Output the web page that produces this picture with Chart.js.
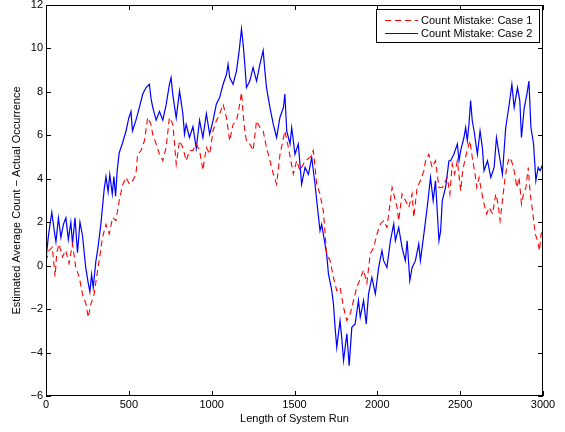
<!DOCTYPE html>
<html><head><meta charset="utf-8">
<script src="https://cdn.jsdelivr.net/npm/chart.js@4"></script>
<style>html,body{margin:0;padding:0;background:#fff}</style>
</head><body>
<canvas id="c" width="565" height="432"></canvas>
<script>
const seriesLabels = ['Count Mistake: Case 1', 'Count Mistake: Case 2'];
const xTicks = [0, 500, 1000, 1500, 2000, 2500, 3000];
const yTicks = [-6, -4, -2, 0, 2, 4, 6, 8, 10, 12];

const case1X = [0,18,38,55,65,79,99,119,139,160,180,200,220,241,255,271,291,305,321,341,362,382,402,422,442,462,483,503,523,543,553,574,594,614,634,644,665,685,705,725,745,766,786,806,826,846,867,887,907,927,947,968,988,1008,1028,1048,1069,1089,1109,1129,1150,1166,1180,1190,1200,1210,1230,1250,1271,1291,1311,1331,1352,1372,1392,1412,1442,1463,1493,1513,1533,1564,1594,1614,1634,1654,1674,1694,1715,1735,1755,1775,1796,1816,1836,1856,1876,1897,1917,1937,1957,1978,1998,2018,2038,2058,2079,2089,2099,2119,2129,2149,2170,2190,2210,2220,2240,2260,2281,2291,2311,2331,2351,2372,2392,2412,2422,2438,2452,2466,2483,2503,2513,2527,2543,2559,2573,2590,2600,2614,2628,2644,2660,2675,2695,2715,2729,2741,2755,2769,2781,2796,2810,2826,2842,2856,2870,2882,2897,2911,2923,2937,2953,2967,2979,2988,3000];
const case1Y = [0.2,0.7,0.85,-0.5,0.6,1.0,0.4,0.7,0.1,1.0,-0.1,-0.5,-1.3,-1.76,-2.38,-1.76,-1.3,-0.54,0.23,1.3,1.9,1.46,2.22,2.07,3.0,3.7,4.06,3.76,3.91,4.21,5.13,5.3,5.75,6.82,6.5,6.05,5.6,5.13,4.83,5.44,6.82,6.5,4.68,5.75,5.44,4.83,5.3,5.3,5.6,5.3,4.4,5.44,5.13,6.2,6.67,6.97,7.43,6.82,5.75,6.5,6.67,7.28,7.97,6.97,6.2,5.75,5.6,5.3,6.67,6.36,6.2,5.44,4.83,4.22,3.75,5.1,6.2,5.44,4.22,4.83,4.37,4.83,4.98,5.3,3.75,3.3,2.53,0.54,0.23,-0.54,-1.15,-1.0,-1.92,-2.53,-2.22,-1.61,-1.0,-0.6,-0.2,-0.8,0.54,0.84,1.46,1.92,2.07,1.76,3.0,3.6,3.3,2.68,2.07,3.3,3.0,2.68,3.3,2.22,3.6,3.91,4.37,4.83,5.13,4.52,4.83,3.6,3.6,3.91,4.06,3.3,4.68,4.22,4.83,3.45,4.22,4.83,5.3,5.75,4.98,4.22,3.6,4.06,3.45,2.84,2.38,2.68,2.38,3.3,2.84,2.07,3.0,3.91,4.52,4.98,4.83,4.37,3.6,4.06,2.84,3.3,3.6,4.52,3.3,2.53,1.46,1.15,0.69,1.46,1.6];

const case2X = [0,15,35,50,60,75,90,105,120,135,150,160,175,190,205,220,240,255,265,275,285,301,315,331,351,362,375,385,400,410,420,430,442,460,483,500,513,522,543,564,584,604,624,634,644,665,685,705,725,745,755,765,786,806,826,836,846,866,887,907,927,947,968,988,1008,1028,1048,1069,1089,1099,1109,1129,1150,1166,1180,1190,1200,1210,1230,1250,1271,1291,1311,1321,1331,1352,1372,1392,1412,1433,1442,1453,1473,1483,1503,1523,1543,1564,1584,1604,1624,1634,1654,1664,1684,1694,1705,1725,1735,1745,1755,1775,1785,1796,1816,1830,1846,1866,1886,1897,1917,1933,1947,1967,1988,2008,2028,2038,2058,2079,2099,2109,2129,2149,2169,2180,2196,2210,2230,2250,2260,2281,2301,2321,2337,2351,2372,2382,2392,2412,2422,2432,2442,2462,2483,2493,2503,2523,2533,2543,2553,2563,2573,2584,2604,2620,2634,2644,2665,2685,2705,2719,2735,2755,2775,2796,2812,2826,2846,2860,2870,2887,2903,2915,2927,2943,2957,2971,2983,3000];
const case2Y = [0.3,1.4,2.45,1.6,1.1,2.2,1.3,1.9,2.2,1.2,2.0,1.0,2.2,0.6,2.0,1.4,-0.1,-0.8,-1.2,-0.4,-1.0,0.2,0.9,1.9,3.5,4.1,3.4,4.2,3.3,4.1,3.2,4.4,5.2,5.6,6.2,6.8,7.1,6.2,6.7,7.3,7.9,8.2,8.35,7.7,7.3,6.7,7.1,6.7,7.4,8.35,8.66,7.9,6.8,8.05,7.0,6.05,6.5,5.9,6.4,5.4,6.7,5.9,7.0,6.05,6.67,7.43,7.74,8.35,8.8,9.27,8.66,8.35,8.97,9.89,10.9,10.2,9.27,8.2,8.5,9.12,8.5,9.27,9.9,8.97,8.2,7.28,6.5,5.9,6.82,7.28,7.9,6.2,5.6,6.36,5.13,5.6,3.75,4.52,4.2,4.98,3.75,3.0,1.6,1.9,1.0,0.54,-0.38,-1.15,-1.76,-2.84,-3.76,-2.53,-3.3,-4.37,-3.14,-4.6,-2.84,-2.68,-1.61,-2.37,-1.61,-2.68,-1.3,-0.54,-1.3,-0.08,0.69,0.23,-0.08,1.15,1.92,1.15,1.76,0.84,0.23,1.15,-0.69,-0.08,0.23,1.0,0.23,1.46,2.68,4.06,3.0,3.91,1.15,1.6,3.0,3.6,4.2,4.83,4.83,5.13,5.6,4.83,5.3,5.9,6.36,5.75,6.5,7.6,6.67,6.2,5.13,6.2,5.44,4.37,4.83,4.06,4.52,5.9,5.13,4.2,6.36,7.43,8.35,7.28,8.2,7.6,5.9,7.28,7.9,8.5,6.36,5.6,3.91,4.52,4.37,4.7];

const toPts = (xs, ys) => xs.map((v, i) => ({x: v, y: ys[i]}));
const FONT = {family: '"Liberation Sans", Arial, Helvetica, sans-serif', size: 11};

const framePlugin = {
  id: 'frame',
  afterDatasetsDraw(chart) {
    const {ctx, chartArea: a, scales: {x, y}} = chart;
    ctx.save();
    ctx.strokeStyle = '#000';
    ctx.lineWidth = 1;
    ctx.setLineDash([]);
    const L = 5;
    ctx.beginPath();
    xTicks.forEach(v => {
      const px = Math.round(x.getPixelForValue(v)) + 0.5;
      ctx.moveTo(px, a.bottom); ctx.lineTo(px, a.bottom - L);
      ctx.moveTo(px, a.top); ctx.lineTo(px, a.top + L);
    });
    yTicks.forEach(v => {
      const py = Math.round(y.getPixelForValue(v)) + 0.5;
      ctx.moveTo(a.left, py); ctx.lineTo(a.left + L, py);
      ctx.moveTo(a.right, py); ctx.lineTo(a.right - L, py);
    });
    ctx.stroke();
    ctx.strokeRect(a.left + 0.5, a.top + 0.5, a.right - a.left - 1, a.bottom - a.top - 1);

    const bx = 376.5, by = 9.5, bw = 163, bh = 33;
    ctx.fillStyle = '#fff';
    ctx.fillRect(bx, by, bw, bh);
    ctx.strokeRect(bx, by, bw, bh);
    ctx.font = FONT.size + 'px ' + FONT.family;
    ctx.textBaseline = 'middle';
    ctx.textAlign = 'left';
    chart.data.datasets.forEach((ds, i) => {
      const ly = 20.5 + i * 13;
      ctx.beginPath();
      ctx.strokeStyle = ds.borderColor;
      ctx.setLineDash(ds.borderDash || []);
      ctx.moveTo(385, ly); ctx.lineTo(418, ly);
      ctx.stroke();
      ctx.setLineDash([]);
      ctx.fillStyle = '#000';
      ctx.fillText(ds.label, 421, ly);
    });
    ctx.restore();
  }
};

new Chart(document.getElementById('c'), {
  type: 'line',
  data: {
    datasets: [
      {label: seriesLabels[0], data: toPts(case1X, case1Y), borderColor: '#ff0000', borderWidth: 1.1, borderDash: [6, 4], pointRadius: 0, tension: 0, fill: false},
      {label: seriesLabels[1], data: toPts(case2X, case2Y), borderColor: '#0000ff', borderWidth: 1.2, pointRadius: 0, tension: 0, fill: false}
    ]
  },
  options: {
    responsive: false,
    animation: false,
    events: [],
    layout: {padding: {top: 5, right: 22, left: 0, bottom: 0}},
    plugins: {legend: {display: false}, tooltip: {enabled: false}},
    scales: {
      x: {
        type: 'linear', min: 0, max: 3000,
        afterBuildTicks: s => { s.ticks = xTicks.map(v => ({value: v})); },
        ticks: {font: FONT, color: '#000', padding: 2, maxRotation: 0, autoSkip: false, callback: v => String(v)},
        grid: {display: false, drawTicks: false},
        border: {display: false},
        title: {display: true, text: 'Length of System Run', font: FONT, color: '#000', padding: {top: 0, bottom: 6}},
        afterFit: s => { s.height = 36; s.paddingLeft = 0; s.paddingRight = 0; }
      },
      y: {
        type: 'linear', min: -6, max: 12,
        afterBuildTicks: s => { s.ticks = yTicks.map(v => ({value: v})); },
        ticks: {font: FONT, color: '#000', padding: 3, autoSkip: false, callback: v => String(v).replace('-', '\u2212')},
        grid: {display: false, drawTicks: false},
        border: {display: false},
        title: {display: true, text: 'Estimated Average Count \u2212 Actual Occurrence', font: FONT, color: '#000', padding: {top: 10, bottom: 0}},
        afterFit: s => { s.width = 46; s.paddingTop = 0; s.paddingBottom = 0; }
      }
    }
  },
  plugins: [framePlugin]
});
</script>
</body></html>
